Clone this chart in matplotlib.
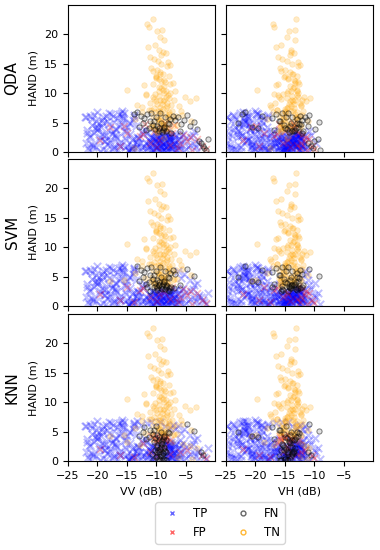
import numpy as np
import matplotlib
matplotlib.use('Agg')
import matplotlib.pyplot as plt
from matplotlib.lines import Line2D

# water samples (positives): VV, VH backscatter (dB) and HAND (m)
water_vv = np.array([
    -21.5, -20.8, -19.6, -18.2, -17.1, -16.4, -15.3, -14.2, -13.5, -21.9,
    -20.1, -19.0, -18.7, -17.6, -16.0, -15.8, -14.7, -13.2, -21.2, -20.4,
    -19.3, -18.0, -17.3, -16.6, -15.1, -14.4, -13.8, -22.0, -20.6, -19.8,
    -18.5, -17.8, -16.9, -15.6, -14.9, -13.6, -21.4, -20.0, -19.1, -18.3,
    -17.0, -16.2, -15.4, -14.1, -13.1, -21.7, -20.3, -19.5, -18.9, -17.4,
    -16.7, -15.9, -14.6, -13.9, -21.0, -20.7, -19.2, -18.4, -17.7, -16.3,
    -15.5, -14.8, -13.4, -21.3, -19.9, -18.8, -17.2, -16.1, -15.2, -14.3,
    -11.8, -11.2, -10.6, -10.1, -9.7, -9.2, -8.8, -8.3, -7.9, -7.4,
    -6.9, -6.4, -11.5, -10.9, -10.3, -9.9, -9.4, -9.0, -8.6, -8.1,
    -7.6, -7.1, -6.6, -12.0, -11.0, -10.4, -9.8, -9.3, -8.9, -8.4,
    -8.0, -7.5, -7.0, -6.2, -11.6, -10.8, -10.2, -9.6, -9.1, -8.7,
    -8.2, -7.8, -7.3, -6.8, -11.3, -10.7, -10.0, -9.5, -8.5, -7.7,
    -12.5, -13.0, -12.8, -6.0, -5.8, -9.9, -9.0, -8.4, -10.5, -7.2,
    -13.8, -13.2, -12.6, -12.0, -11.5, -11.0, -10.6, -10.2, -9.8, -9.5,
    -9.2, -8.9, -8.6, -8.3, -8.0, -7.6, -7.2, -6.8, -6.3, -5.8,
    -5.3, -4.8, -4.2, -3.6, -3.1, -12.9, -11.8, -10.9, -10.0, -9.6,
    -9.0, -8.5, -7.9, -7.4, -11.2, -10.4, -9.3, -8.7, -12.3, -6.0,
    -5.7, -5.2, -4.6, -4.1, -3.5, -3.0, -2.4, -1.8, -1.2, -5.5,
    -4.9, -4.3, -3.8, -3.2, -2.7, -2.1, -1.5, -5.0, -3.6, -2.9,
    -10.9, -10.4, -9.8, -9.4, -8.9, -8.5, -8.0, -7.6, -7.2, -6.7,
    -10.7, -10.1, -9.6, -9.1, -8.7, -8.2, -7.8, -7.3, -6.9, -6.3,
    -11.1, -10.5, -9.9, -9.3, -8.8, -8.3, -7.9, -7.4, -7.0, -6.5,
    -10.2, -9.7, -9.2, -8.6, -8.1, -7.7, -11.4, -10.0, -9.5, -8.4,
    -12.2, -11.7, -12.6, -13.3, -13.9, -12.4, -14.2, -11.9, -5.9, -6.1,
    -21.8, -20.9, -20.2, -19.4, -18.6, -17.9, -17.0, -16.5, -15.7, -14.5,
    -13.7, -21.1, -20.5, -19.7, -18.1, -17.5, -16.8, -16.0, -15.0, -14.0,
    -22.1, -21.6, -19.0, -18.6, -17.3, -15.3, -14.7, -13.3, -20.0, -16.4,
])
water_vh = np.array([
    -24.2, -23.0, -22.9, -21.0, -21.8, -19.9, -20.5, -18.4, -19.1, -24.8,
    -22.1, -23.4, -21.6, -20.2, -21.1, -19.0, -18.0, -17.6, -23.9, -24.5,
    -22.0, -22.6, -20.7, -18.8, -19.7, -20.9, -17.9, -24.9, -22.7, -21.4,
    -23.1, -21.2, -20.0, -18.6, -19.4, -18.3, -24.6, -23.5, -21.9, -20.4,
    -22.3, -19.5, -21.5, -18.9, -17.2, -23.7, -24.1, -22.4, -20.8, -19.3,
    -21.3, -20.1, -17.7, -19.8, -22.8, -24.3, -23.2, -21.7, -19.6, -22.0,
    -18.2, -20.6, -17.4, -23.6, -21.0, -22.5, -20.3, -18.7, -19.2, -17.9,
    -16.8, -15.4, -16.1, -14.9, -15.7, -14.2, -15.0, -13.6, -14.4, -13.1,
    -13.9, -12.3, -17.2, -15.9, -14.6, -15.3, -13.8, -14.7, -13.3, -14.0,
    -12.8, -13.5, -12.6, -16.9, -15.6, -14.3, -16.0, -14.8, -13.4, -14.5,
    -13.0, -13.7, -12.5, -12.9, -15.8, -16.3, -15.1, -14.0, -13.9, -15.2,
    -13.2, -12.7, -13.6, -12.4, -16.5, -14.4, -15.5, -14.1, -13.5, -12.9,
    -17.0, -17.6, -16.2, -12.1, -11.8, -14.6, -15.4, -13.1, -15.9, -13.8,
    -22.3, -21.8, -18.9, -17.2, -16.5, -15.8, -15.2, -14.6, -14.1, -13.7,
    -13.9, -13.3, -12.8, -13.5, -12.9, -13.0, -12.4, -12.0, -11.6, -12.2,
    -11.3, -10.9, -11.1, -9.2, -9.8, -20.6, -16.9, -15.5, -14.8, -15.0,
    -14.3, -13.8, -12.6, -12.1, -19.5, -16.0, -14.5, -13.1, -23.0, -11.9,
    -12.6, -11.9, -12.2, -11.3, -11.7, -10.8, -11.0, -10.2, -9.4, -12.9,
    -11.5, -12.0, -10.6, -11.2, -10.1, -10.5, -9.0, -12.3, -10.9, -9.7,
    -15.3, -14.8, -14.2, -15.6, -13.7, -13.1, -14.5, -13.4, -12.9, -12.6,
    -16.1, -15.0, -14.4, -13.8, -14.9, -13.3, -12.7, -13.9, -12.4, -12.2,
    -16.4, -15.7, -14.0, -15.2, -13.5, -14.6, -13.0, -12.8, -13.6, -12.3,
    -15.5, -14.7, -14.1, -13.2, -15.1, -12.5, -16.7, -14.3, -13.9, -14.8,
    -17.3, -16.6, -17.9, -18.2, -18.8, -16.9, -19.3, -16.0, -11.9, -12.5,
    -24.7, -23.3, -22.5, -22.2, -21.4, -20.6, -20.9, -19.2, -19.9, -18.5,
    -17.8, -24.4, -23.8, -21.5, -22.1, -20.0, -21.6, -19.8, -18.1, -19.0,
    -24.9, -24.0, -22.8, -20.9, -21.2, -19.4, -18.7, -17.5, -23.0, -20.5,
])
water_hand = np.array([
    0.3, 1.2, 2.5, 3.8, 5.1, 6.4, 0.8, 2.1, 4.4, 5.9,
    6.8, 0.5, 1.9, 3.1, 4.7, 6.1, 0.2, 1.4, 2.8, 4.0,
    5.5, 6.7, 0.9, 2.3, 3.5, 5.0, 6.3, 1.6, 3.3, 4.9,
    0.4, 2.0, 3.9, 5.7, 1.1, 0.6, 2.6, 4.2, 6.0, 1.3,
    2.9, 4.5, 6.6, 0.7, 2.4, 3.7, 5.3, 0.1, 1.8, 3.4,
    5.8, 6.9, 0.4, 2.2, 4.6, 0.9, 3.0, 5.2, 6.5, 1.5,
    3.6, 0.3, 1.7, 6.2, 4.1, 2.7, 0.6, 1.0, 2.0, 0.5,
    0.2, 1.1, 2.3, 0.6, 1.8, 3.0, 0.3, 1.5, 2.6, 0.9,
    2.0, 0.4, 3.2, 1.7, 0.5, 2.8, 1.2, 0.1, 2.2, 3.4,
    0.7, 1.6, 2.9, 1.0, 2.5, 3.3, 0.8, 2.1, 1.4, 0.2,
    2.7, 1.9, 3.1, 1.3, 0.6, 0.4, 1.9, 3.5, 0.9, 2.4,
    1.1, 3.0, 0.5, 2.6, 2.0, 1.2, 3.4, 0.3, 1.7, 2.2,
    0.8, 2.3, 1.5, 1.0, 2.8, 1.6, 2.9, 3.2, 0.1, 1.4,
    6.4, 6.8, 6.1, 5.7, 6.5, 5.2, 4.6, 3.9, 4.4, 3.6,
    4.9, 3.8, 4.3, 3.5, 5.0, 5.6, 6.2, 5.4, 6.0, 4.8,
    5.5, 6.3, 4.5, 5.1, 3.9, 4.2, 3.7, 6.6, 5.9, 4.1,
    3.4, 6.0, 4.7, 3.3, 4.0, 5.3, 6.7, 4.0, 5.0, 3.6,
    0.4, 1.8, 0.9, 2.6, 1.3, 0.2, 1.6, 0.7, 2.2, 3.1,
    0.5, 1.2, 2.9, 0.8, 1.9, 1.1, 0.3, 2.3, 3.6, 1.5,
    0.5, 1.6, 2.4, 0.2, 1.3, 2.9, 0.7, 2.0, 1.1, 0.3,
    2.6, 0.9, 1.5, 2.3, 0.4, 1.8, 2.8, 0.6, 1.4, 2.1,
    1.9, 0.3, 3.1, 1.0, 2.5, 0.8, 1.7, 2.7, 0.2, 1.2,
    2.2, 0.6, 1.9, 1.0, 0.4, 2.4, 1.4, 2.0, 2.6, 0.9,
    3.0, 1.5, 0.4, 2.6, 1.1, 3.5, 0.7, 3.8, 0.6, 2.2,
    3.2, 5.6, 0.8, 4.3, 6.2, 1.7, 3.9, 0.3, 5.4, 3.0,
    6.0, 1.4, 6.3, 2.0, 4.8, 0.5, 2.5, 6.7, 4.2, 5.5,
    6.0, 0.7, 5.0, 2.9, 6.1, 2.3, 4.9, 0.9, 3.7, 1.2,
])

# non-water samples (negatives)
land_vv = np.array([
    -10.8, -10.3, -9.9, -9.6, -9.3, -9.0, -8.7, -8.4, -8.1, -7.7,
    -7.3, -10.5, -10.0, -9.7, -9.4, -9.1, -8.8, -8.5, -8.2, -7.9,
    -7.5, -11.0, -10.2, -9.8, -9.5, -9.2, -8.9, -8.6, -8.3, -8.0,
    -7.6, -10.6, -10.1, -9.6, -9.2, -8.8, -8.4, -7.8, -9.9, -9.0,
    -8.6, -10.4, -9.4, -8.7, -8.1, -9.7, -9.1, -8.5, -10.9, -7.1,
    -10.6, -11.6, -11.2, -9.8, -9.0, -8.7, -10.2, -9.5, -8.4, -11.0,
    -10.4, -9.7, -9.1, -8.2, -10.8, -9.9, -9.3, -8.8, -7.9, -10.1,
    -9.6, -8.6, -11.4, -9.2, -8.0, -10.5, -9.4, -7.6, -8.9, -10.0,
    -15.0, -13.2, -12.5, -6.2, -5.1, -4.3, -3.2, -6.8, -12.0, -5.6,
    -4.0, -7.2, -13.6, -11.8, -6.5,
    -19.5, -17.8, -16.2, -14.9, -13.7, -12.8, -11.9, -11.1, -10.4, -9.8,
    -9.2, -8.7, -8.2, -7.6, -7.0, -6.3, -5.5, -4.7, -3.9, -3.0,
    -2.2, -15.5, -12.3, -10.7, -9.5, -8.5, -7.3, -6.0, -4.2, -1.5,
    -10.7, -10.2, -9.9, -9.5, -9.1, -8.8, -8.4, -8.0, -7.6, -7.2,
    -10.5, -10.0, -9.6, -9.3, -8.9, -8.5, -8.2, -7.8, -7.4, -11.3,
    -11.8, -10.3, -9.4, -8.6, -8.1, -7.0, -6.6, -12.4, -5.8, -9.8,
])
land_vh = np.array([
    -15.9, -14.6, -15.2, -13.8, -14.9, -13.4, -14.1, -15.5, -13.1, -12.8,
    -13.6, -16.2, -14.4, -15.0, -13.7, -14.3, -12.9, -15.7, -13.9, -14.7,
    -12.6, -16.6, -15.3, -14.0, -13.5, -14.8, -15.1, -13.2, -14.5, -13.3,
    -12.4, -16.0, -14.2, -15.4, -13.6, -14.9, -12.7, -13.0, -15.8, -14.1,
    -13.4, -15.6, -14.4, -13.8, -12.5, -15.1, -14.6, -13.5, -16.4, -12.2,
    -13.1, -17.0, -16.8, -14.3, -13.3, -13.2, -15.7, -14.0, -13.5, -16.2,
    -15.4, -14.6, -13.8, -12.7, -15.9, -14.9, -14.2, -13.6, -12.9, -15.1,
    -14.4, -13.4, -16.5, -14.1, -12.8, -15.6, -14.7, -12.5, -13.9, -15.0,
    -19.7, -17.6, -17.0, -12.3, -11.8, -11.4, -10.7, -12.9, -16.5, -12.1,
    -11.0, -13.2, -18.1, -16.1, -12.4,
    -22.1, -20.7, -19.4, -18.6, -17.5, -16.8, -16.0, -15.3, -14.9, -14.2,
    -13.8, -14.6, -13.2, -12.9, -13.5, -12.4, -12.0, -11.6, -11.2, -10.8,
    -10.3, -19.9, -16.4, -15.7, -14.4, -13.6, -12.7, -12.2, -11.4, -10.0,
    -15.6, -15.0, -14.3, -13.9, -13.2, -14.7, -13.5, -12.9, -12.6, -13.0,
    -16.0, -14.5, -15.3, -14.0, -13.6, -12.8, -14.9, -13.3, -12.3, -16.3,
    -16.8, -15.8, -13.7, -14.6, -13.1, -12.1, -12.5, -17.4, -11.9, -14.2,
])
land_hand = np.array([
    4.2, 7.5, 5.8, 9.6, 3.9, 8.1, 11.2, 6.4, 4.7, 10.1,
    7.0, 11.6, 4.5, 6.9, 8.8, 5.2, 10.6, 3.6, 7.8, 9.2,
    5.5, 8.4, 9.9, 3.8, 11.0, 6.6, 4.3, 8.9, 10.4, 5.9,
    3.5, 6.2, 8.6, 4.9, 10.8, 7.3, 9.4, 6.8, 3.4, 4.6,
    5.1, 9.0, 7.7, 3.7, 8.3, 5.4, 6.1, 4.0, 7.1, 4.4,
    22.6, 21.8, 21.2, 20.5, 20.8, 19.0, 18.2, 17.4, 16.8, 16.2,
    15.9, 15.5, 15.0, 14.6, 14.3, 14.0, 13.6, 13.3, 13.0, 12.7,
    12.4, 12.2, 17.8, 16.5, 15.3, 13.8, 19.6, 14.8, 17.0, 12.9,
    10.5, 8.0, 6.8, 7.8, 9.4, 8.7, 9.1, 10.3, 11.4, 6.3,
    5.2, 11.8, 5.6, 9.7, 4.6,
    2.1, 4.3, 1.0, 3.2, 0.6, 2.7, 4.8, 1.5, 3.6, 0.9,
    4.1, 2.4, 3.9, 1.2, 4.6, 0.7, 2.9, 1.8, 0.4, 2.2,
    1.0, 4.5, 3.0, 4.4, 2.0, 4.9, 3.3, 1.6, 2.6, 0.5,
    5.0, 6.8, 8.2, 10.3, 12.1, 4.8, 7.4, 9.7, 11.5, 6.0,
    9.3, 12.6, 5.6, 7.0, 8.6, 11.9, 4.1, 6.5, 8.0, 7.2,
    9.8, 3.9, 13.2, 10.0, 5.7, 8.9, 6.2, 7.6, 6.9, 3.3,
])

# misclassified water samples (false negatives), index into water arrays
qda_fn = [130, 131, 132, 133, 134, 135, 136, 137, 138, 139,
          140, 141, 142, 143, 144, 145, 146, 147, 148, 149,
          150, 151, 152, 153, 154, 155, 156, 157, 158, 159,
          160, 161, 162, 163, 164, 165, 166, 167, 168, 169,
          176, 177, 178, 184, 185, 186]
svm_fn = [131, 132, 133, 134, 135, 136, 137, 138, 139, 140,
          141, 142, 143, 144, 145, 146, 147, 151, 153, 155,
          156, 157, 158, 159, 160, 161, 162, 163, 164, 165,
          166, 167, 168, 169, 75, 78, 82, 85, 89, 94,
          95, 100, 102, 107, 111, 116, 126, 127, 195, 212]
knn_fn = [133, 135, 136, 137, 138, 139, 140, 141, 142, 143,
          144, 151, 153, 155, 156, 158, 159, 160, 162, 164,
          165, 167, 168, 73, 74, 75, 76, 77, 85, 86,
          87, 88, 95, 96, 97, 98, 99, 106, 108, 109,
          115, 117, 118, 125, 126, 128, 176, 185, 192, 193,
          194, 202, 203, 204]

# misclassified non-water samples (false positives), index into land arrays
qda_fp = [95, 96, 97, 98, 100, 101, 102, 103, 104, 105,
          107, 108, 109, 110, 111, 112, 113, 114, 115, 116,
          117, 119, 120, 121, 122, 123, 124]
svm_fp = [95, 97, 98, 99, 100, 102, 104, 106, 108, 110,
          111, 112, 113, 114, 115, 117, 119, 121, 122, 123, 124]
knn_fp = [0, 4, 12, 17, 23, 26, 30, 43, 47, 95,
          97, 99, 102, 104, 106, 108, 112, 115, 117, 119,
          122, 124, 141, 146, 154]

models = ['QDA', 'SVM', 'KNN']
fn_lists = [qda_fn, svm_fn, knn_fn]
fp_lists = [qda_fp, svm_fp, knn_fp]


def draw_panel(ax, xw, xl, fn, fp):
    tp = np.ones(len(xw), dtype=bool)
    tp[fn] = False
    tn = np.ones(len(xl), dtype=bool)
    tn[fp] = False
    ax.scatter(xw[tp], water_hand[tp], marker='x', c='blue', s=28, lw=1.4, alpha=0.25)
    ax.scatter(xl[~tn], land_hand[~tn], marker='x', c='red', s=24, lw=1.2, alpha=0.25)
    ax.scatter(xl[tn], land_hand[tn], marker='o', s=16, facecolor='orange',
               edgecolor='orange', lw=0.5, alpha=0.22)
    ax.scatter(xw[~tp], water_hand[~tp], marker='o', s=14, facecolor=(0.2, 0.2, 0.2, 0.15),
               edgecolor=(0, 0, 0, 0.5), lw=0.7)
    ax.set_xlim(-25, 0)
    ax.set_ylim(0, 25)
    ax.set_xticks([-25, -20, -15, -10, -5])
    ax.set_yticks([0, 5, 10, 15, 20])
    ax.tick_params(labelsize=8)


fig = plt.figure(figsize=(3.8, 5.5), dpi=100)
lefts = [68 / 380, 226 / 380]
width = 147 / 380
bottoms = [1 - 152 / 550, 1 - 306 / 550, 1 - 461 / 550]
height = 147 / 550

for r in range(3):
    for c in range(2):
        ax = fig.add_axes([lefts[c], bottoms[r], width, height])
        if c == 0:
            draw_panel(ax, water_vv, land_vv, fn_lists[r], fp_lists[r])
            ax.set_ylabel('HAND (m)', fontsize=8)
            fig.text(12 / 380, bottoms[r] + height / 2, models[r], rotation=90,
                     fontsize=11, ha='center', va='center')
        else:
            draw_panel(ax, water_vh, land_vh, fn_lists[r], fp_lists[r])
            ax.set_yticklabels([])
        if r < 2:
            ax.set_xticklabels([])
        else:
            ax.set_xlabel('VV (dB)' if c == 0 else 'VH (dB)', fontsize=8)

handles = [
    Line2D([], [], ls='', marker='x', color='blue', alpha=0.6, markersize=3.5, mew=1),
    Line2D([], [], ls='', marker='x', color='red', alpha=0.6, markersize=3.5, mew=1),
    Line2D([], [], ls='', marker='o', mfc='none', mec='black', alpha=0.6, markersize=3.5, mew=1),
    Line2D([], [], ls='', marker='o', mfc='none', mec='orange', alpha=0.8, markersize=3.5, mew=1),
]
fig.legend(handles, ['TP', 'FP', 'FN', 'TN'], loc='center', ncol=2,
           bbox_to_anchor=(220 / 380, 1 - 523 / 550), fontsize=8.5,
           handletextpad=0.8, columnspacing=2.0)

fig.savefig('out.png', dpi=100)
